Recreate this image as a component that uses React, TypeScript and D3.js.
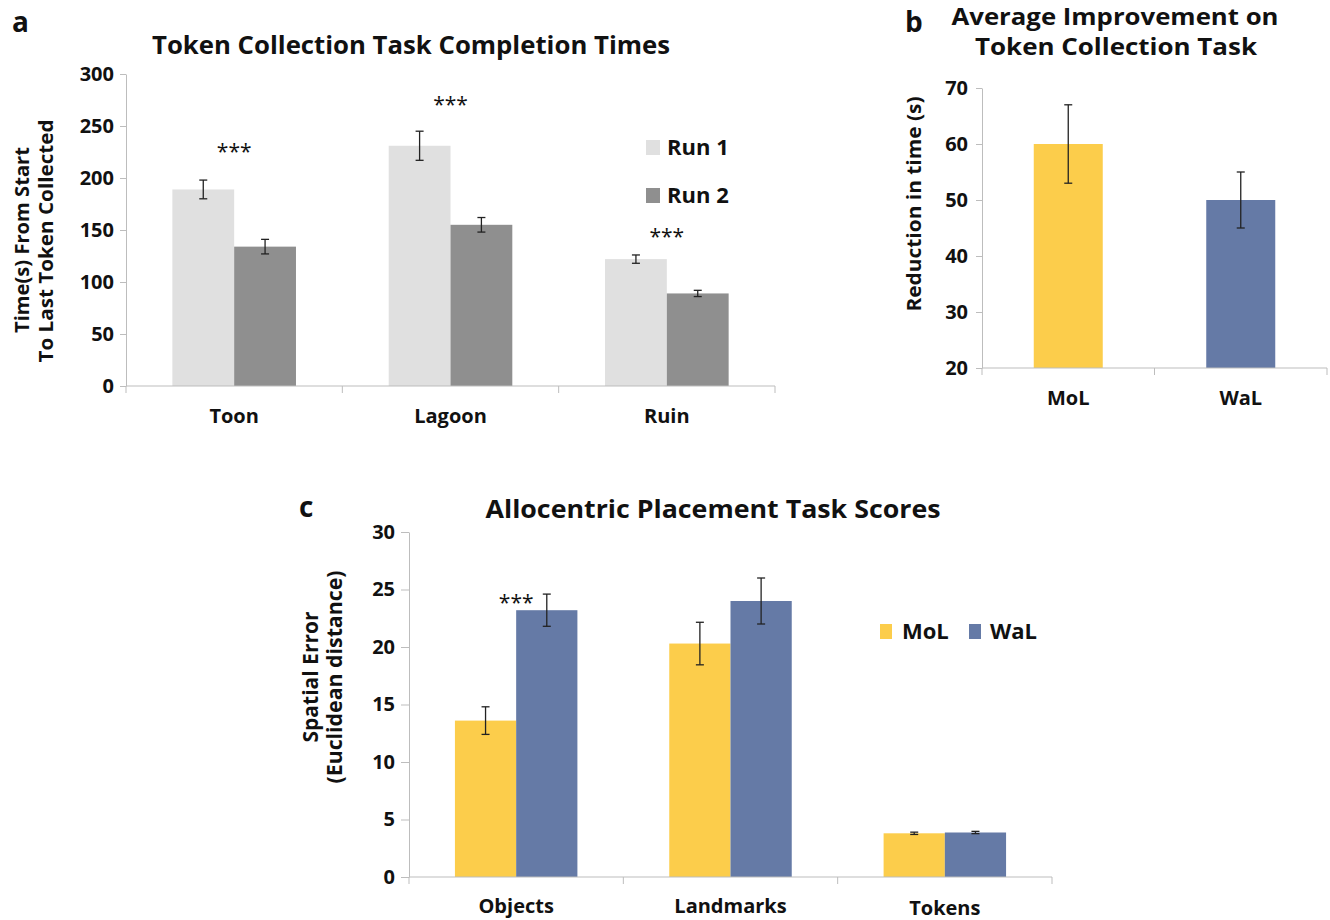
import React, { useEffect, useRef } from "react";
import * as d3 from "d3";

// --- panel a: token collection completion times ---
const mapCategories = ["Toon", "Lagoon", "Ruin"];
const runSeries = ["Run 1", "Run 2"];
const run1Times = [189, 231, 122];
const run1Errors = [9, 14, 4];
const run2Times = [134, 155, 89];
const run2Errors = [7, 7, 3];
const timeTicks = [0, 50, 100, 150, 200, 250, 300];
const timeStars = [230, 275, 148];

// --- panel b: average improvement ---
const groups = ["MoL", "WaL"];
const reduction = [60, 50];
const reductionErrors = [7, 5];
const reductionTicks = [20, 30, 40, 50, 60, 70];

// --- panel c: allocentric placement scores ---
const placementCategories = ["Objects", "Landmarks", "Tokens"];
const molScores = [13.6, 20.3, 3.8];
const molErrors = [1.2, 1.85, 0.1];
const walScores = [23.2, 24.0, 3.87];
const walErrors = [1.4, 2.0, 0.1];
const scoreTicks = [0, 5, 10, 15, 20, 25, 30];
const scoreStars = [24.3, null, null];

const FONT = "'Open Sans', sans-serif";
const AXIS = "#bdbdbd";
const RUN1 = "#e0e0e0";
const RUN2 = "#8f8f8f";
const MOL = "#fccd4b";
const WAL = "#657aa6";

function text(g, str, x, y, size, opts: any = {}) {
  const t = g
    .append("text")
    .attr("x", x)
    .attr("y", y)
    .attr("text-anchor", opts.anchor || "start")
    .attr("font-family", FONT)
    .attr("font-size", size)
    .attr("font-weight", opts.weight || 700)
    .attr("fill", "#111")
    .text(str);
  if (opts.length) t.attr("textLength", opts.length).attr("lengthAdjust", "spacingAndGlyphs");
  return t;
}

function vtext(g, str, x, cy, size, length?) {
  const t = g
    .append("text")
    .attr("transform", `translate(${x},${cy}) rotate(-90)`)
    .attr("text-anchor", "middle")
    .attr("font-family", FONT)
    .attr("font-size", size)
    .attr("font-weight", 700)
    .attr("fill", "#111")
    .text(str);
  if (length) t.attr("textLength", length).attr("lengthAdjust", "spacingAndGlyphs");
}

function drawBars(svg, cfg) {
  const x = d3.scaleBand().domain(cfg.categories).range([cfg.left, cfg.right]).padding(0);
  const xs = d3
    .scaleBand()
    .domain(cfg.series)
    .range([0, x.bandwidth()])
    .paddingInner(0)
    .paddingOuter(0.75);
  const y = d3.scaleLinear().domain(cfg.domain).range([cfg.bottom, cfg.top]);
  const g = svg.append("g");

  // bars
  cfg.series.forEach((s, i) => {
    g.append("g")
      .selectAll("rect")
      .data(cfg.values[i])
      .join("rect")
      .attr("x", (d, j) => x(cfg.categories[j]) + xs(s))
      .attr("width", xs.bandwidth())
      .attr("y", (d) => y(d))
      .attr("height", (d) => y(cfg.domain[0]) - y(d))
      .attr("fill", (d, j) => cfg.color(i, j));
  });

  // error bars
  cfg.series.forEach((s, i) => {
    cfg.values[i].forEach((v, j) => {
      const e = cfg.errors[i][j];
      const cx = x(cfg.categories[j]) + xs(s) + xs.bandwidth() / 2;
      const eg = g.append("g").attr("stroke", "#222").attr("stroke-width", 1.3);
      eg.append("line").attr("x1", cx).attr("x2", cx).attr("y1", y(v - e)).attr("y2", y(v + e));
      [v - e, v + e].forEach((yy) =>
        eg.append("line").attr("x1", cx - 4).attr("x2", cx + 4).attr("y1", y(yy)).attr("y2", y(yy))
      );
    });
  });

  // y axis
  const ya = g
    .append("g")
    .attr("transform", `translate(${cfg.left},0)`)
    .call(
      d3
        .axisLeft(y)
        .tickValues(cfg.ticks)
        .tickSize(cfg.tickLen || 6)
        .tickSizeOuter(0)
        .tickPadding(cfg.tickPad || 6)
    );
  ya.attr("font-family", FONT).attr("font-size", 20).attr("font-weight", 700);
  ya.select(".domain").attr("stroke", AXIS);
  ya.selectAll(".tick line").attr("stroke", AXIS);
  ya.selectAll(".tick text").attr("fill", "#111");

  // x axis
  const base = y(cfg.domain[0]);
  g.append("line")
    .attr("x1", cfg.left)
    .attr("x2", cfg.right)
    .attr("y1", base)
    .attr("y2", base)
    .attr("stroke", AXIS);
  const bounds = cfg.categories.map((c) => x(c)).concat([cfg.right]);
  g.append("g")
    .selectAll("line")
    .data(bounds)
    .join("line")
    .attr("x1", (d) => d)
    .attr("x2", (d) => d)
    .attr("y1", base)
    .attr("y2", base + 7)
    .attr("stroke", AXIS);

  cfg.categories.forEach((c, j) => {
    text(g, c, x(c) + x.bandwidth() / 2, cfg.labelY + (cfg.labelShift ? cfg.labelShift[j] : 0), 20, {
      anchor: "middle",
    });
  });

  // significance stars
  if (cfg.stars) {
    cfg.stars.forEach((v, j) => {
      if (v == null) return;
      text(g, "***", x(cfg.categories[j]) + x.bandwidth() / 2, y(v) + 12, 21, {
        anchor: "middle",
        weight: 400,
      });
    });
  }
}

export default function App() {
  const svgRef = useRef(null);

  useEffect(() => {
    const svg = d3.select(svgRef.current);
    svg.selectAll("*").remove();

    // ---------- panel a ----------
    text(svg, "a", 12, 32, 28);
    text(svg, "Token Collection Task Completion Times", 411, 54, 25, { anchor: "middle", length: 518 });
    vtext(svg, "Time(s) From Start", 29, 240, 20, 186);
    vtext(svg, "To Last Token Collected", 53, 241, 20, 243);
    drawBars(svg, {
      categories: mapCategories,
      series: runSeries,
      values: [run1Times, run2Times],
      errors: [run1Errors, run2Errors],
      color: (i) => (i === 0 ? RUN1 : RUN2),
      domain: [0, 300],
      ticks: timeTicks,
      left: 126,
      right: 775,
      top: 74,
      bottom: 386,
      labelY: 423,
      stars: timeStars,
    });
    runSeries.forEach((s, i) => {
      svg.append("rect").attr("x", 646).attr("y", 140 + i * 48).attr("width", 14).attr("height", 15).attr("fill", i === 0 ? RUN1 : RUN2);
      text(svg, s, 667, 155 + i * 48, 22);
    });

    // ---------- panel b ----------
    text(svg, "b", 905, 32, 28);
    text(svg, "Average Improvement on", 1115, 25, 24, { anchor: "middle", length: 327 });
    text(svg, "Token Collection Task", 1116, 55, 24, { anchor: "middle", length: 282 });
    vtext(svg, "Reduction in time (s)", 921, 204, 20, 215);
    drawBars(svg, {
      categories: groups,
      series: ["Reduction"],
      values: [reduction],
      errors: [reductionErrors],
      color: (i, j) => (j === 0 ? MOL : WAL),
      domain: [20, 70],
      ticks: reductionTicks,
      left: 982,
      right: 1327,
      top: 88,
      bottom: 368,
      labelY: 405,
      tickPad: 8,
    });

    // ---------- panel c ----------
    text(svg, "c", 299, 517, 28);
    text(svg, "Allocentric Placement Task Scores", 713, 518, 25, { anchor: "middle", length: 455 });
    vtext(svg, "Spatial Error", 318, 677, 21, 131);
    vtext(svg, "(Euclidean distance)", 342, 677, 21, 213);
    drawBars(svg, {
      categories: placementCategories,
      series: groups,
      values: [molScores, walScores],
      errors: [molErrors, walErrors],
      color: (i) => (i === 0 ? MOL : WAL),
      domain: [0, 30],
      ticks: scoreTicks,
      left: 409,
      right: 1052,
      top: 532,
      bottom: 877,
      labelY: 913,
      labelShift: [0, 0, 2],
      tickLen: 8,
      tickPad: 6,
      stars: scoreStars,
    });
    groups.forEach((s, i) => {
      svg.append("rect").attr("x", 880 + i * 89).attr("y", 624).attr("width", 12).attr("height", 15).attr("fill", i === 0 ? MOL : WAL);
      text(svg, s, 902 + i * 88, 639, 22);
    });
  }, []);

  return (
    <svg
      ref={svgRef}
      width={1330}
      height={920}
      style={{ position: "absolute", left: 0, top: 0, background: "#fff" }}
    />
  );
}
